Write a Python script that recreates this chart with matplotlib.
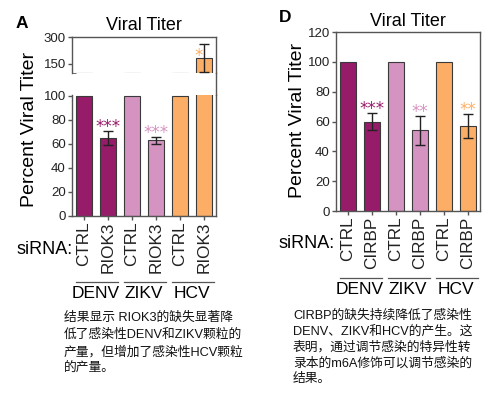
import matplotlib
matplotlib.use('Agg')
import matplotlib.pyplot as plt
from matplotlib.lines import Line2D
from matplotlib.transforms import blended_transform_factory

plt.rcParams['font.family'] = ['Liberation Sans', 'Noto Sans CJK SC']

W, H = 500, 396

viruses = ['DENV', 'ZIKV', 'HCV']
colors = ['#961b69', '#d493c0', '#fcae66']

a_labels = ['CTRL', 'RIOK3'] * 3
a_values = [100, 65, 100, 63, 100, 185]
a_errors = [0, 6, 0, 3, 0, 78]
a_stars = ['', '***', '', '***', '', '*']

d_labels = ['CTRL', 'CIRBP'] * 3
d_values = [100, 60, 100, 54, 100, 57]
d_errors = [0, 6, 0, 10, 0, 8]
d_stars = ['', '***', '', '**', '', '**']

a_caption = ['结果显示 RIOK3的缺失显著降',
             '低了感染性DENV和ZIKV颗粒的',
             '产量，但增加了感染性HCV颗粒',
             '的产量。']
d_caption = ['CIRBP的缺失持续降低了感染性',
             'DENV、ZIKV和HCV的产生。这',
             '表明，通过调节感染的特异性转',
             '录本的m6A修饰可以调节感染的',
             '结果。']

SPINE = '#555555'
EDGE = '#3a3a3a'


def box(l, t, r, b):
    return [l / W, 1 - b / H, (r - l) / W, (b - t) / H]


def fy(y):
    return 1 - y / H


def style(ax):
    for s in ax.spines.values():
        s.set_color(SPINE)
        s.set_linewidth(1)
    ax.tick_params(colors='#222222', labelsize=9.5, length=3, width=1,
                   pad=1.5)
    ax.tick_params(axis='y', color=SPINE)
    ax.tick_params(axis='x', color=SPINE, pad=1)


def star(ax, x, y, s, color, dx=0, dy=-1):
    ax.annotate(s, (x, y), xytext=(dx, dy), textcoords='offset points',
                ha='center', va='baseline', color=color, fontsize=12,
                family='DejaVu Sans')


def draw_bars(ax, values, errors, stars=None):
    x = list(range(len(values)))
    bar_colors = [c for c in colors for _ in range(2)]
    ax.bar(x, values, width=0.67, color=bar_colors, edgecolor=EDGE,
           linewidth=0.8)
    ax.errorbar(x[1::2], values[1::2], yerr=errors[1::2], fmt='none',
                ecolor='#222222', elinewidth=1, capsize=3.5, capthick=1)
    if stars:
        for i, s in enumerate(stars):
            if s:
                star(ax, i, values[i] + errors[i], s, bar_colors[i])
    ax.set_xlim(-0.5, 5.5)


def x_labels(ax, labels, siRNA_xy, line_y, name_y):
    ax.set_xticks(range(len(labels)))
    ax.set_xticklabels(labels, rotation=90, fontsize=12.3)
    fig.text(siRNA_xy[0] / W, fy(siRNA_xy[1]), 'siRNA:', fontsize=13,
             ha='right', va='center')
    tr = blended_transform_factory(ax.transData, fig.transFigure)
    for g, name in enumerate(viruses):
        c0, c1 = 2 * g, 2 * g + 1
        ax.add_line(Line2D([c0 - 0.33, c1 + 0.42], [fy(line_y)] * 2,
                           transform=tr, color='#555555', lw=0.9,
                           clip_on=False))
        ax.text((c0 + c1) / 2, fy(name_y), name, transform=tr, fontsize=12.5,
                ha='center', va='center')


fig = plt.figure(figsize=(W / 100, H / 100), dpi=100)

# ---- panel A (broken y axis)
ax_up = fig.add_axes(box(72, 37, 216, 73))
ax_lo = fig.add_axes(box(72, 95, 216, 216))

draw_bars(ax_up, a_values, a_errors)
draw_bars(ax_lo, a_values, a_errors, stars=a_stars[:4])
star(ax_up, 5, a_values[5] + a_errors[5], a_stars[5], colors[2],
     dx=-3.5, dy=-12.5)

ax_up.set_ylim(100, 300)
ax_up.set_yticks([150, 300])
ax_up.set_yticks([100], minor=True)
ax_lo.set_ylim(0, 100.6)
ax_lo.set_yticks(range(0, 101, 20))
for ax in (ax_up, ax_lo):
    style(ax)
ax_up.tick_params(axis='y', which='minor', direction='in', length=3,
                  color=SPINE)
ax_up.spines['bottom'].set_visible(False)
ax_up.set_xticks([])
ax_lo.spines['top'].set_visible(False)
fig.add_artist(Line2D([216 / W] * 2, [fy(73), fy(95)],
                      transform=fig.transFigure, color=SPINE, lw=1))

x_labels(ax_lo, a_labels, (73, 249), 282, 294)
fig.text(30 / W, fy(129), 'Percent Viral Titer', rotation=90, fontsize=14,
         ha='center', va='center')
fig.text(144 / W, fy(26), 'Viral Titer', fontsize=13, ha='center',
         va='center')
fig.text(22 / W, fy(24), 'A', fontsize=12.5, fontweight='bold', ha='center',
         va='center')

for k, line in enumerate(a_caption):
    fig.text(64 / W, fy(318 + 17 * k), line, fontsize=9.2, ha='left',
             va='center', color='#111111')

# ---- panel D
ax_d = fig.add_axes(box(336, 32, 480, 211))
draw_bars(ax_d, d_values, d_errors, stars=d_stars)
ax_d.set_ylim(0, 120)
ax_d.set_yticks(range(0, 121, 20))
style(ax_d)
x_labels(ax_d, d_labels, (335, 243), 278, 289)
fig.text(297 / W, fy(120), 'Percent Viral Titer', rotation=90, fontsize=14,
         ha='center', va='center')
fig.text(408 / W, fy(22), 'Viral Titer', fontsize=13, ha='center',
         va='center')
fig.text(285 / W, fy(18), 'D', fontsize=12.5, fontweight='bold', ha='center',
         va='center')

for k, line in enumerate(d_caption):
    fig.text(293 / W, fy(316 + 15.8 * k), line, fontsize=9.2, ha='left',
             va='center', color='#111111')

fig.savefig('out.png', dpi=100, facecolor='white')
